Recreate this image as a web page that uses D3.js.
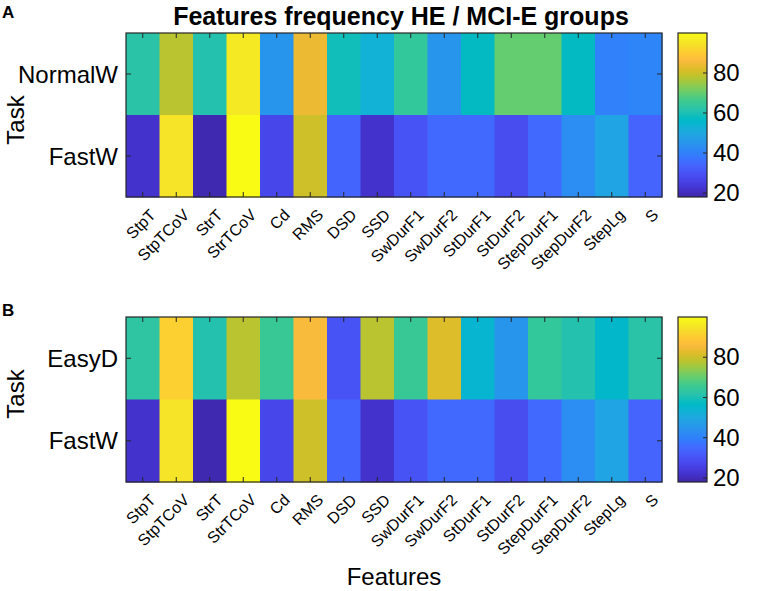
<!DOCTYPE html>
<html>
<head>
<meta charset="utf-8">
<script src="https://cdn.jsdelivr.net/npm/d3@7"></script>
<style>
html,body{margin:0;padding:0;background:#fff;}
svg{display:block;font-family:Arial,"Liberation Sans",sans-serif;}
</style>
</head>
<body>
<svg id="chart" width="765" height="591"></svg>
<script>
// ---- data ----
const features = ["StpT","StpTCoV","StrT","StrTCoV","Cd","RMS","DSD","SSD","SwDurF1","SwDurF2","StDurF1","StDurF2","StepDurF1","StepDurF2","StepLg","S"];
const tasksA = ["NormalW","FastW"];
const tasksB = ["EasyD","FastW"];
const normalW_A = [62,78,61,96,45,84,59,53,64,45,57,70,70,57,40,41];
const fastW_A   = [22,95,19,100,27,80,34,22,30,35,35,28.5,35,43,49,33.5];
const easyD_B   = [63,91,61,78,65,86,30,78,65,82,54.5,45,64,61,55.5,62];
const fastW_B   = [22,95,19,100,27,80,34,22,30,35,35,28.5,35,43,49,33.5];
const colorTicks = [20,40,60,80];
const colorDomain = [18,100];
const titleText = "Features frequency HE / MCI-E groups";

// parula colormap (64 entries)
const parula = [[0.2422,0.1504,0.6603],[0.2504,0.1650,0.7076],[0.2578,0.1818,0.7511],[0.2647,0.1978,0.7952],[0.2706,0.2147,0.8364],[0.2751,0.2342,0.8710],[0.2783,0.2559,0.8991],[0.2803,0.2782,0.9221],[0.2813,0.3006,0.9414],[0.2810,0.3228,0.9579],[0.2795,0.3447,0.9717],[0.2760,0.3667,0.9829],[0.2699,0.3892,0.9906],[0.2602,0.4123,0.9952],[0.2440,0.4358,0.9988],[0.2206,0.4603,0.9973],[0.1963,0.4847,0.9892],[0.1834,0.5074,0.9798],[0.1786,0.5289,0.9682],[0.1764,0.5499,0.9520],[0.1687,0.5703,0.9359],[0.1540,0.5902,0.9218],[0.1460,0.6091,0.9079],[0.1380,0.6276,0.8973],[0.1248,0.6459,0.8883],[0.1113,0.6635,0.8763],[0.0952,0.6798,0.8598],[0.0689,0.6948,0.8394],[0.0297,0.7082,0.8163],[0.0036,0.7203,0.7917],[0.0067,0.7312,0.7660],[0.0433,0.7411,0.7394],[0.0964,0.7500,0.7120],[0.1408,0.7584,0.6842],[0.1717,0.7670,0.6554],[0.1938,0.7758,0.6251],[0.2161,0.7843,0.5923],[0.2470,0.7918,0.5567],[0.2906,0.7973,0.5188],[0.3406,0.8008,0.4789],[0.3909,0.8029,0.4354],[0.4456,0.8024,0.3909],[0.5044,0.7993,0.3480],[0.5616,0.7942,0.3045],[0.6174,0.7876,0.2612],[0.6720,0.7793,0.2227],[0.7242,0.7698,0.1910],[0.7738,0.7598,0.1646],[0.8203,0.7498,0.1535],[0.8634,0.7406,0.1596],[0.9035,0.7330,0.1774],[0.9393,0.7288,0.2100],[0.9728,0.7298,0.2394],[0.9956,0.7434,0.2371],[0.9970,0.7659,0.2199],[0.9952,0.7893,0.2028],[0.9892,0.8136,0.1885],[0.9786,0.8386,0.1766],[0.9676,0.8639,0.1643],[0.9610,0.8890,0.1537],[0.9597,0.9135,0.1423],[0.9628,0.9373,0.1265],[0.9691,0.9606,0.1064],[0.9769,0.9839,0.0805]]
  .map(c => d3.rgb(c[0]*255,c[1]*255,c[2]*255).formatHex());
const parulaInterp = d3.interpolateRgbBasis(parula);
const color = d3.scaleSequential(parulaInterp).domain(colorDomain).clamp(true);

const svg = d3.select("#chart");
const L = {x0:126, x1:662, cbX0:678, cbX1:707};

function panel(opts){
  const {y0,y1,tasks,rows,letter,letterY,taskY,title} = opts;
  const g = svg.append("g");
  const x = d3.scaleBand().domain(features).range([L.x0,L.x1]);
  const y = d3.scaleBand().domain(tasks).range([y0,y1]);
  const cells = [];
  tasks.forEach((t,i)=>features.forEach((f,j)=>cells.push({t,f,v:rows[i][j]})));
  g.selectAll("rect.cell").data(cells).enter().append("rect")
    .attr("x",d=>x(d.f)).attr("y",d=>y(d.t))
    .attr("width",x.bandwidth()+0.5).attr("height",y.bandwidth()+0.5)
    .attr("fill",d=>color(d.v));
  g.append("rect").attr("x",L.x0).attr("y",y0).attr("width",L.x1-L.x0).attr("height",y1-y0)
    .attr("fill","none").attr("stroke","#262626").attr("stroke-width",1.2);
  const tl = 5;
  features.forEach(f=>{
    const cx = x(f)+x.bandwidth()/2;
    g.append("line").attr("x1",cx).attr("x2",cx).attr("y1",y1).attr("y2",y1-tl).attr("stroke","#262626");
    g.append("line").attr("x1",cx).attr("x2",cx).attr("y1",y0).attr("y2",y0+tl).attr("stroke","#262626");
  });
  tasks.forEach(t=>{
    const cy = y(t)+y.bandwidth()/2;
    g.append("line").attr("x1",L.x0).attr("x2",L.x0+tl).attr("y1",cy).attr("y2",cy).attr("stroke","#262626");
    g.append("line").attr("x1",L.x1).attr("x2",L.x1-tl).attr("y1",cy).attr("y2",cy).attr("stroke","#262626");
  });
  g.selectAll("text.xl").data(features).enter().append("text")
    .attr("transform",f=>`translate(${x(f)+x.bandwidth()/2+14},${y1+19}) rotate(-45)`)
    .attr("text-anchor","end").attr("font-size",16).attr("fill","#000").text(f=>f);
  g.selectAll("text.yl").data(tasks).enter().append("text")
    .attr("x",L.x0-8).attr("y",t=>y(t)+y.bandwidth()/2+8.5)
    .attr("text-anchor","end").attr("font-size",24).attr("fill","#000").text(t=>t);
  g.append("text").attr("transform",`translate(24,${taskY}) rotate(-90)`)
    .attr("text-anchor","middle").attr("font-size",24).attr("fill","#000").text("Task");
  g.append("text").attr("x",2).attr("y",letterY).attr("font-size",17).attr("font-weight","bold").text(letter);
  // colorbar
  const cy = d3.scaleLinear().domain(colorDomain).range([y1,y0]);
  const defsId = "grad"+letter;
  const grad = svg.append("defs").append("linearGradient").attr("id",defsId)
    .attr("x1",0).attr("y1",1).attr("x2",0).attr("y2",0);
  d3.range(0,1.0001,0.02).forEach(s=>{
    grad.append("stop").attr("offset",s).attr("stop-color",parulaInterp(s));
  });
  g.append("rect").attr("x",L.cbX0).attr("y",y0).attr("width",L.cbX1-L.cbX0).attr("height",y1-y0)
    .attr("fill",`url(#${defsId})`).attr("stroke","#262626").attr("stroke-width",1.2);
  const cax = d3.axisRight(cy).tickValues(colorTicks).tickSize(0).tickPadding(6);
  const ag = g.append("g").attr("transform",`translate(${L.cbX1},0)`).call(cax);
  ag.select(".domain").remove();
  ag.selectAll("text").attr("font-size",24).attr("fill","#000").attr("font-family","Arial, 'Liberation Sans', sans-serif");
  colorTicks.forEach(v=>{
    g.append("line").attr("x1",L.cbX1).attr("x2",L.cbX1-4).attr("y1",cy(v)).attr("y2",cy(v)).attr("stroke","#262626");
  });
  if(title){
    g.append("text").attr("x",401).attr("y",25).attr("text-anchor","middle")
      .attr("font-size",25).attr("font-weight","bold").attr("fill","#000").text(title);
  }
}

panel({y0:33,y1:197,tasks:tasksA,rows:[normalW_A,fastW_A],letter:"A",letterY:18,taskY:120,title:titleText});
panel({y0:317,y1:482,tasks:tasksB,rows:[easyD_B,fastW_B],letter:"B",letterY:316,taskY:394});

svg.append("text").attr("x",394).attr("y",585).attr("text-anchor","middle")
  .attr("font-size",24).attr("fill","#000").text("Features");
</script>
</body>
</html>
